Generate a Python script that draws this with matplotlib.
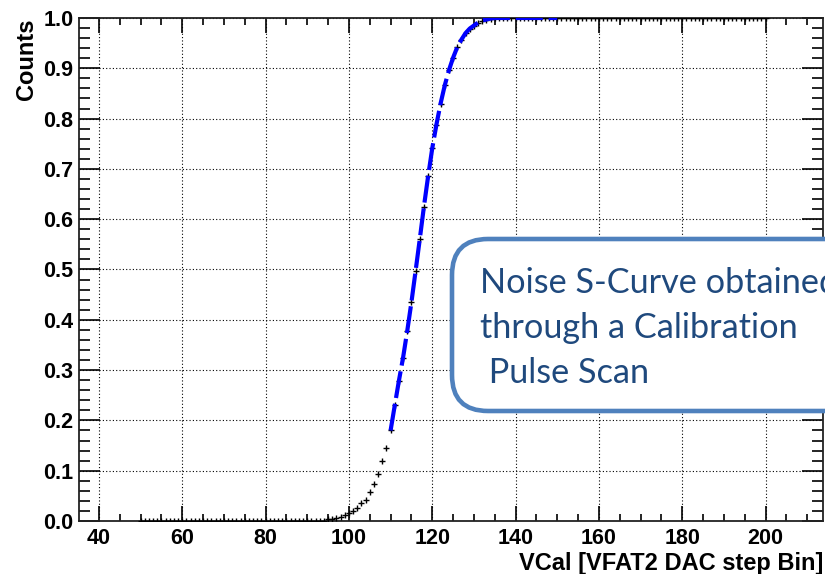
import numpy as np
import matplotlib
matplotlib.use("Agg")
import matplotlib.pyplot as plt
from matplotlib.patches import FancyBboxPatch
from matplotlib.ticker import MultipleLocator, FormatStrFormatter
from matplotlib.transforms import IdentityTransform

# --- data ---
# flat part at zero (bins 50..94)
x_zero = list(range(50, 95))
y_zero = [0.0] * len(x_zero)
# rising part of the S-curve (bins 95..135)
x_rise = list(range(95, 136))
y_rise = [0.003, 0.004, 0.006, 0.008, 0.011, 0.015, 0.020, 0.026, 0.035, 0.042,
          0.057, 0.074, 0.094, 0.119, 0.145, 0.180, 0.230, 0.279, 0.325, 0.378,
          0.435, 0.497, 0.560, 0.625, 0.685, 0.741, 0.788, 0.830, 0.866, 0.896,
          0.921, 0.942, 0.957, 0.970, 0.979, 0.985, 0.991, 0.995, 0.997, 0.999,
          1.000]
# flat part at one (bins 136..200)
x_one = list(range(136, 201))
y_one = [1.0] * len(x_one)

fit_lo, fit_hi = 110, 150

x_ticks = [40, 60, 80, 100, 120, 140, 160, 180, 200]
note_lines = ["Noise S-Curve obtained", "through a Calibration", " Pulse Scan"]

xs = np.array(x_zero + x_rise + x_one)
ys = np.array(y_zero + y_rise + y_one)

fig = plt.figure(figsize=(8.25, 5.74), dpi=100)
ax = fig.add_axes([79 / 825, 53 / 574, 744 / 825, 503 / 574])

ax.plot(xs, ys, linestyle="none", marker="+", markersize=4.5, mew=1.0,
        color="black", zorder=3)

# fit curve drawn over the points in the fit range
sel = (xs >= fit_lo) & (xs <= fit_hi)
ax.plot(xs[sel], ys[sel], color="#0000ff", linewidth=3.0,
        linestyle=(0, (6.5, 1.4)), solid_capstyle="butt", zorder=4)

ax.set_xlim(35.2, 213.8)
ax.set_ylim(0.0, 1.0)
ax.set_xticks(x_ticks)
ax.xaxis.set_minor_locator(MultipleLocator(5))
ax.yaxis.set_major_locator(MultipleLocator(0.1))
ax.yaxis.set_minor_locator(MultipleLocator(0.02))
ax.yaxis.set_major_formatter(FormatStrFormatter("%.1f"))

ax.grid(True, which="major", color="black", linestyle=(0, (1, 2)), linewidth=0.8)
ax.set_axisbelow(True)

ax.tick_params(axis="x", which="major", direction="in", length=11, width=1.2,
               top=True, bottom=True, pad=5)
ax.tick_params(axis="x", which="minor", direction="in", length=5, width=1.2,
               top=True, bottom=True)
ax.tick_params(axis="y", which="major", direction="in", length=15, width=1.2,
               left=True, right=True, pad=4)
ax.tick_params(axis="y", which="minor", direction="in", length=8, width=1.2,
               left=True, right=True)
for lab in ax.get_xticklabels() + ax.get_yticklabels():
    lab.set_fontfamily("Liberation Sans")
    lab.set_fontweight("bold")
    lab.set_fontsize(15.5)
for sp in ax.spines.values():
    sp.set_linewidth(1.3)
    sp.set_color("#222222")

ax.set_xlabel("VCal [VFAT2 DAC step Bin]", loc="right", fontsize=17,
              fontweight="bold", family="Liberation Sans", labelpad=2)
ax.set_ylabel("Counts", loc="top", fontsize=17, fontweight="bold",
              family="Liberation Sans", labelpad=4)

# rounded annotation box, partly off the right edge
box = FancyBboxPatch((452, 163), 420, 172, boxstyle="round,pad=0,rounding_size=36",
                     transform=IdentityTransform(), facecolor="white",
                     edgecolor="#4f81bd", linewidth=3.3, zorder=10)
fig.patches.append(box)

line_y = [292.7, 337.7, 382.7]
for txt, yy in zip(note_lines, line_y):
    fig.text(480 / 825, (574 - yy) / 574, txt, fontsize=24.7, color="#1f497d",
             family="Lato", va="baseline", ha="left", zorder=11)

fig.savefig("out.png", dpi=100)
